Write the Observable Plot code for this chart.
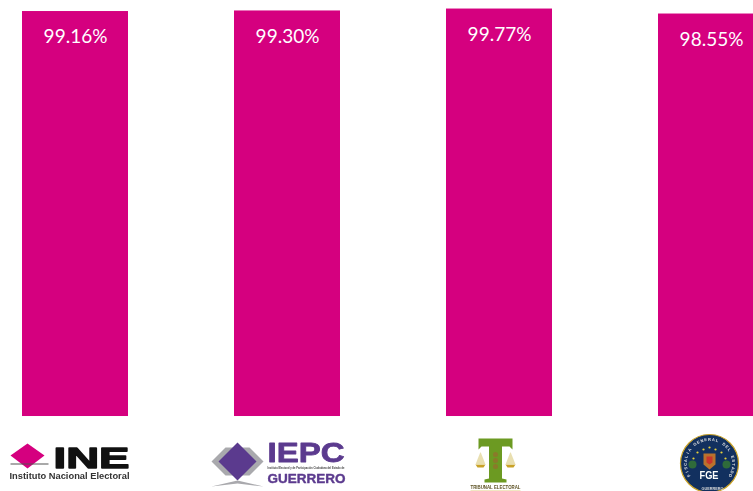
<!DOCTYPE html>
<html>
<head>
<meta charset="utf-8">
<script src="https://cdn.jsdelivr.net/npm/d3@7"></script>
<script src="https://cdn.jsdelivr.net/npm/@observablehq/plot@0.6"></script>
<style>
html,body{margin:0;padding:0;background:#fff;overflow:hidden}
svg{display:block;overflow:hidden}
</style>
</head>
<body>
<div id="chart"></div>
<script>
const categories = ["INE", "IEPC Guerrero", "Tribunal Electoral", "FGE"];
const values = [99.16, 99.30, 99.77, 98.55];
const valueLabels = ["99.16%", "99.30%", "99.77%", "98.55%"];

const PINK = "#d5007f", PURPLE = "#5b3a8e", GREY = "#a9a9ad", GREEN = "#6c9a22", GOLD = "#c9a227", NAVY = "#12305f";
const rows = categories.map((c, i) => ({c, v: values[i], label: valueLabels[i]}));

const poly = pts => ({draw(ctx){ pts.forEach(([a,b],i)=> i?ctx.lineTo(a,b):ctx.moveTo(a,b)); ctx.closePath(); }});
const logoShape = (c, dx, dy, pts, fill, extra={}) =>
  Plot.dot([c], {x: d=>d, y: ()=>0, dx, dy, r: 5, symbol: poly(pts), fill, stroke: "none", ...extra});
const logoText = (c, text, dx, dy, o) =>
  Plot.text([c], {x: d=>d, y: ()=>0, text: ()=>text, dx, dy, textAnchor: "start", lineAnchor: "middle", fontFamily: "Liberation Sans", fontWeight: "bold", ...o});
const logoDot = (c, dx, dy, r, fill, extra={}) =>
  Plot.dot([c], {x: d=>d, y: ()=>0, dx, dy, r, fill, stroke: "none", ...extra});

const [ine, iepc, tee, fge] = categories;

// letters set on the seal's ring
const sealText = "FISCALIA GENERAL DEL ESTADO";
const sealMarks = [...sealText].map((ch, i) => {
  const deg = -120 + i * 240 / (sealText.length - 1), a = deg * Math.PI / 180;
  return Plot.text([fge], {x: d=>d, y: ()=>0, text: ()=>ch, dx: -2 + 24 * Math.sin(a), dy: 47 - 24 * Math.cos(a), rotate: deg, fontSize: 4, fontWeight: "bold", fontFamily: "Liberation Sans", fill: "#e6e6e6"});
});

const marks = [
  Plot.barY(rows, {x: "c", y: "v", fill: PINK}),
  Plot.text(rows, {x: "c", y: "v", text: "label", dy: 25.5, fill: "white", fontSize: 19, fontFamily: "Lato"}),

  // INE
  logoShape(ine, -48, 39, [[-17,0],[0,-12],[17,0],[0,13]], PINK),
  logoShape(ine, -48, 47, [[-17,0],[21,0],[21,1],[-17,1]], "#555"),
  logoText(ine, "INE", -22, 42, {fontSize: 29.5, fill: "#111", stroke: "#111", strokeWidth: 1.3}),
  logoText(ine, "Instituto Nacional Electoral", -66, 60, {fontSize: 8.6, fill: "#333"}),

  // IEPC
  logoShape(iepc, -50, 45, [[-26,0],[-12,-14],[12,-14],[26,0],[12,14],[-12,14]], GREY),
  logoShape(iepc, -50, 45, [[-19,0],[0,-19],[19,0],[0,19]], PURPLE),
  logoShape(iepc, -50, 67, [[-26,3],[0,-3],[26,3],[0,0]], GREY),
  logoText(iepc, "IEPC", -20, 37, {fontSize: 28, fill: PURPLE, stroke: PURPLE, strokeWidth: 0.8}),
  logoText(iepc, "Instituto Electoral y de Participación Ciudadana del Estado de", -20, 52, {fontSize: 2.9, fill: "#444"}),
  logoText(iepc, "GUERRERO", -20, 62, {fontSize: 13.4, fill: PURPLE, stroke: PURPLE, strokeWidth: 0.4}),

  // Tribunal Electoral
  logoShape(tee, -4, 44, [[-17,-22],[17,-22],[17,-11],[14,-14],[6.5,-14],[6.5,18],[11,19],[11,22],[-11,22],[-11,19],[-6.5,18],[-6.5,-14],[-14,-14],[-17,-11]], GREEN),
  logoShape(tee, -19, 49, [[-5,-1],[5,-1],[3,2],[-3,2]], GOLD),
  logoShape(tee, 11, 49, [[-5,-1],[5,-1],[3,2],[-3,2]], GOLD),
  logoShape(tee, -19, 42, [[-0.3,-6],[0.3,-6],[5,6],[-5,6]], "#e9dfb0"),
  logoShape(tee, 11, 42, [[-0.3,-6],[0.3,-6],[5,6],[-5,6]], "#e9dfb0"),
  logoDot(tee, -4, 38, 2.5, "#8a7a2a"),
  logoDot(tee, -4, 44, 2.5, "#8a7a2a"),
  logoDot(tee, -4, 50, 2.5, "#8a7a2a"),
  logoText(tee, "TRIBUNAL ELECTORAL", -29, 71, {fontSize: 4.8, fill: "#5d5224"}),
  logoShape(tee, -4, 74, [[-25,0],[25,0],[25,1],[-25,1]], "#e3cf86"),

  // FGE
  logoDot(fge, -2, 47, 29, NAVY, {stroke: GOLD, strokeWidth: 1.2}),
  logoDot(fge, -19, 48, 4, "#2f6b3a"),
  logoDot(fge, 15, 48, 4, "#2f6b3a"),
  ...[[-14,36],[-8,33],[-2,31],[4,33],[10,36],[-18,42],[14,42]].map(([a,b]) => logoDot(fge, a, b, 1.1, "#e8d23a")),
  logoShape(fge, -2, 43, [[-6,-6],[6,-6],[6,5],[0,10],[-6,5]], "#b9722d"),
  logoShape(fge, -2, 43, [[-3,-3],[3,-3],[3,3],[0,5],[-3,3]], "#c8352c"),
  logoText(fge, "FGE", -12, 59, {fontSize: 10, fill: "white"}),
  logoText(fge, "GUERRERO", -10, 72, {fontSize: 3.8, fill: "#d9d9d9"}),
  ...sealMarks
];

const chart = Plot.plot({
  width: 753,
  height: 491,
  margin: 0,
  style: {background: "white"},
  x: {type: "band", domain: categories, range: [0, 786], paddingInner: 0.5, paddingOuter: 0.1, axis: null},
  y: {domain: [-18.36, 101.86], range: [491, 0], axis: null},
  marks
});

// fit the wordmarks to the logos' measured widths
const wordWidths = {"INE": 76, "Instituto Nacional Electoral": 120, "IEPC": 77,
  "Instituto Electoral y de Participación Ciudadana del Estado de": 77, "GUERRERO": 78, "TRIBUNAL ELECTORAL": 50, "FGE": 19};
chart.querySelectorAll("text").forEach(t => {
  const s = t.textContent;
  const inSeal = s === "GUERRERO" && t.closest("g").getAttribute("font-size") < 5;
  if (s in wordWidths && !inSeal) {
    t.setAttribute("textLength", wordWidths[s]);
    t.setAttribute("lengthAdjust", "spacingAndGlyphs");
  }
});
// the logos in the picture are soft, low-resolution images
[...chart.querySelectorAll(":scope > g")].slice(2).forEach(g => g.style.filter = "blur(0.45px)");

document.getElementById("chart").append(chart);
</script>
</body>
</html>
